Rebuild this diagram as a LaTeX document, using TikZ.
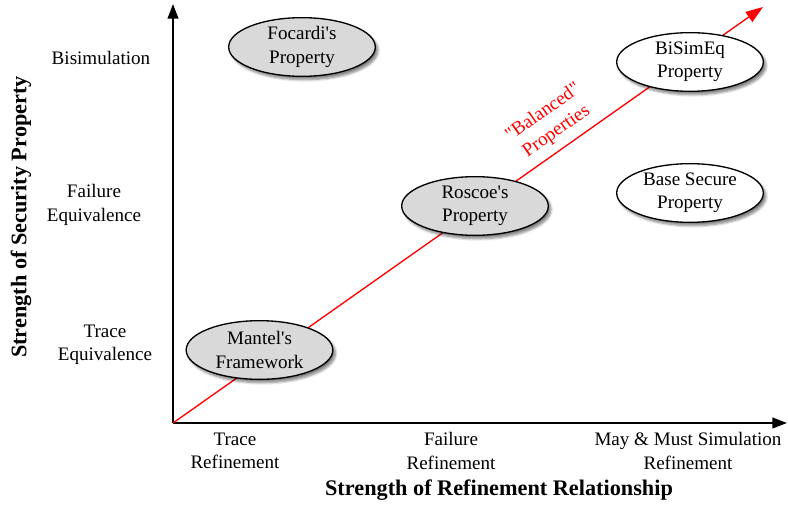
\documentclass[tikz,border=0pt]{standalone}
\usepackage{fontspec}
\setmainfont{Liberation Serif}[Ligatures=TeXOff]
\usetikzlibrary{arrows.meta,shapes.geometric,shadows.blur}

\begin{document}
\begin{tikzpicture}[x=0.75pt, y=-0.75pt,
  texte/.style={font=\fontsize{14.3}{17.5}\selectfont, align=center},
  titre/.style={font=\fontsize{16.7}{20}\selectfont\bfseries},
  propblanc/.style={texte, ellipse, draw, line width=1pt, fill=white, inner sep=0pt,
    minimum width=110pt, minimum height=44pt,
    blur shadow={shadow xshift=2pt, shadow yshift=-2.5pt, shadow blur steps=6, shadow opacity=50}},
  propgris/.style={propblanc, fill=gray!30}]
\useasboundingbox (0,0) rectangle (788,506);
% dessiner les axes
\coordinate (O) at (173,423);
\coordinate (yfin) at (173,4);
\coordinate (xfin) at (787,423);
\draw[-{Triangle[length=11pt,width=8pt]}, line width=1.5pt] (O) -- (yfin);
\draw[-{Triangle[length=11pt,width=8pt]}, line width=1.5pt] (O) -- (xfin);

% dessiner la diagonale rouge
\coordinate (rfin) at (763,7);
\draw[-{Triangle[length=13pt,width=9pt]}, red, line width=1pt] (O) -- (rfin);
\node[texte, red, rotate=35] (balance) at (550,122) {"Balanced"\\Properties};

% les propriétés
\node[propgris] (focardi) at (302,47) {Focardi's\\Property};
\node[propgris] (roscoe) at (475,206) {Roscoe's\\Property};
\node[propgris] (mantel) at (259.5,350) {Mantel's\\Framework};
\node[propblanc] (bisimeq) at (690,62) {BiSimEq\\Property};
\node[propblanc] (basesec) at (690,193) {Base Secure\\Property};

% étiquettes de l'axe vertical
\node[texte] (bisim) at (101,58) {Bisimulation};
\node[texte] (failequiv) at (94,205) {Failure\\Equivalence};
\node[texte] (traceequiv) at (105,345) {Trace\\Equivalence};
\node[titre, rotate=90] (ytitre) at (21,217) {Strength of Security Property};

% étiquettes de l'axe horizontal
\node[texte] (traceref) at (235,451) {Trace\\Refinement};
\node[texte] (failref) at (451,451) {Failure\\Refinement};
\node[texte] (mayref) at (688,451) {May \& Must Simulation\\Refinement};
\node[titre] (xtitre) at (499,490) {Strength of Refinement Relationship};
\end{tikzpicture}
\end{document}
